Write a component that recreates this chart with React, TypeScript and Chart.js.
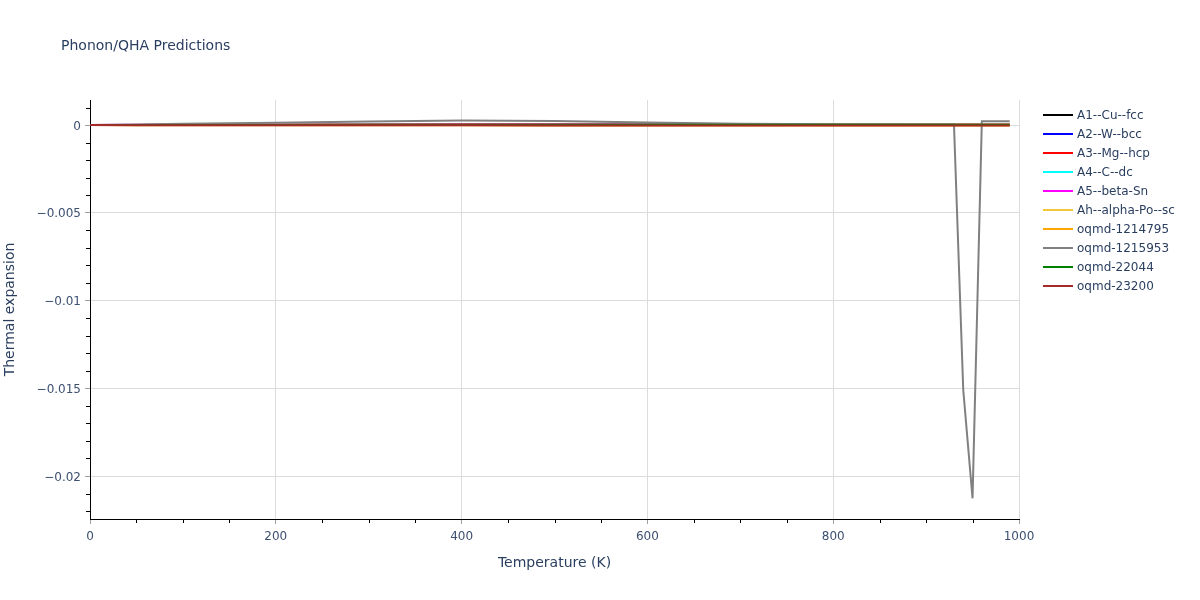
import React, { useEffect, useRef } from "react";
import { Chart, registerables } from "chart.js";

Chart.register(...registerables);

const TITLE = "Phonon/QHA Predictions";
const X_TITLE = "Temperature (K)";
const Y_TITLE = "Thermal expansion";

const seriesNames = [
  "A1--Cu--fcc",
  "A2--W--bcc",
  "A3--Mg--hcp",
  "A4--C--dc",
  "A5--beta-Sn",
  "Ah--alpha-Po--sc",
  "oqmd-1214795",
  "oqmd-1215953",
  "oqmd-22044",
  "oqmd-23200",
];
const seriesColors = [
  "#000000",
  "#0000ff",
  "#ff0000",
  "#00ffff",
  "#ff00ff",
  "#f2c83a",
  "#ffa500",
  "#808080",
  "#008000",
  "#a52a2a",
];

// temperatures for the smooth series
const tSmooth = [0, 50, 100, 200, 300, 400, 500, 600, 700, 800, 900, 990];
const cuVals = [0, 1e-5, 2e-5, 2.5e-5, 2.6e-5, 2.7e-5, 2.8e-5, 2.9e-5, 3e-5, 3.1e-5, 3.2e-5, 3.3e-5];
const wVals = [0, 0.5e-5, 1e-5, 1.2e-5, 1.3e-5, 1.4e-5, 1.5e-5, 1.6e-5, 1.7e-5, 1.8e-5, 1.9e-5, 2e-5];
const mgVals = [0, 1e-5, 2e-5, 2.4e-5, 2.6e-5, 2.8e-5, 3e-5, 3.2e-5, 3.4e-5, 3.6e-5, 3.8e-5, 4e-5];
const cVals = [0, 0, 0.2e-5, 0.6e-5, 0.9e-5, 1.1e-5, 1.2e-5, 1.3e-5, 1.4e-5, 1.5e-5, 1.55e-5, 1.6e-5];
const snVals = [0, 1.5e-5, 2.2e-5, 2.5e-5, 2.6e-5, 2.7e-5, 2.8e-5, 2.9e-5, 3e-5, 3.1e-5, 3.2e-5, 3.3e-5];
const poVals = [0, 1e-5, 1.8e-5, 2.1e-5, 2.2e-5, 2.3e-5, 2.4e-5, 2.5e-5, 2.6e-5, 2.7e-5, 2.8e-5, 2.9e-5];
const o1214795Vals = [0, -0.5e-5, -1e-5, -1.2e-5, -1.4e-5, -1.6e-5, -1.8e-5, -2e-5, -2.2e-5, -2.4e-5, -2.6e-5, -2.8e-5];
const o22044Vals = [0, 0.5e-5, 1e-5, 1.2e-5, 1.3e-5, 1.4e-5, 1.5e-5, 1.6e-5, 1.7e-5, 1.8e-5, 1.9e-5, 2e-5];
const o23200Vals = [0, -0.5e-5, -1e-5, -1.2e-5, -1.4e-5, -1.6e-5, -1.8e-5, -2e-5, -2.2e-5, -2.4e-5, -2.6e-5, -2.8e-5];

// oqmd-1215953 has its own temperature grid (with the dip near 950 K)
const tGray = [0, 50, 100, 200, 300, 400, 500, 600, 700, 800, 900, 920, 930, 940, 950, 960, 970, 980, 990];
const grayVals = [0, 4e-5, 8e-5, 1.4e-4, 2.0e-4, 2.6e-4, 2.4e-4, 1.5e-4, 7e-5, 5e-5, 4e-5, 4e-5, 3e-5, -0.0151, -0.02127, 0.00022, 0.00022, 0.00022, 0.00022];

const seriesTemps = [tSmooth, tSmooth, tSmooth, tSmooth, tSmooth, tSmooth, tSmooth, tGray, tSmooth, tSmooth];
const seriesValues = [cuVals, wVals, mgVals, cVals, snVals, poVals, o1214795Vals, grayVals, o22044Vals, o23200Vals];

const xTicks = [0, 200, 400, 600, 800, 1000];
const yTicks = [-0.02, -0.015, -0.01, -0.005, 0];
const xMinorTicks = [50, 100, 150, 250, 300, 350, 450, 500, 550, 650, 700, 750, 850, 900, 950];
const yMinorTicks = [0.001, -0.001, -0.002, -0.003, -0.004, -0.006, -0.007, -0.008, -0.009, -0.011, -0.012, -0.013, -0.014, -0.016, -0.017, -0.018, -0.019, -0.021, -0.022];

const FONT = "'DejaVu Sans', Verdana, sans-serif";
const TEXT = "#2a3f5f";
const TICK_TEXT = "#3d5070";

const minorTickPlugin = {
  id: "minorTicks",
  afterDraw(chart: any) {
    const ctx = chart.ctx;
    const xs = chart.scales.x;
    const ys = chart.scales.y;
    const area = chart.chartArea;
    ctx.save();
    ctx.strokeStyle = "#000";
    ctx.lineWidth = 1;
    ctx.beginPath();
    for (const v of xMinorTicks) {
      const px = Math.round(xs.getPixelForValue(v)) + 0.5;
      ctx.moveTo(px, area.bottom);
      ctx.lineTo(px, area.bottom + 4);
    }
    for (const v of yMinorTicks) {
      const py = Math.round(ys.getPixelForValue(v)) + 0.5;
      ctx.moveTo(area.left, py);
      ctx.lineTo(area.left - 4, py);
    }
    ctx.stroke();
    ctx.restore();
  },
};

function fmtY(v: number) {
  if (Math.abs(v) < 1e-12) return "0";
  const s = String(+v.toFixed(4));
  return s.replace("-", "\u2212");
}

export default function App() {
  const canvasRef = useRef<HTMLCanvasElement | null>(null);

  useEffect(() => {
    const n = seriesNames.length;
    const datasets = seriesNames.map((name, i) => ({
      label: name,
      data: seriesTemps[i].map((t, j) => ({ x: t, y: seriesValues[i][j] })),
      borderColor: seriesColors[i],
      backgroundColor: seriesColors[i],
      borderWidth: 2,
      pointRadius: 0,
      fill: false,
      tension: 0,
      order: n - i,
    }));
    const chart = new Chart(canvasRef.current as HTMLCanvasElement, {
      type: "line",
      data: { datasets },
      plugins: [minorTickPlugin],
      options: {
        animation: false,
        responsive: false,
        devicePixelRatio: 1,
        layout: { padding: { left: 0, right: 181, top: 100, bottom: 0 } },
        plugins: {
          legend: { display: false },
          title: { display: false },
          tooltip: { enabled: false },
        },
        scales: {
          x: {
            type: "linear",
            min: 0,
            max: 1000,
            afterFit: (s: any) => {
              s.height = 81;
            },
            afterBuildTicks: (s: any) => {
              s.ticks = xTicks.map((v) => ({ value: v }));
            },
            ticks: {
              color: TICK_TEXT,
              font: { family: FONT, size: 12 },
              padding: 6,
              maxRotation: 0,
              callback: (v: any) => String(v),
            },
            grid: {
              color: "#dcdcdc",
              tickColor: "#a0a0a0",
              tickLength: 5,
              drawTicks: true,
            },
            border: { color: "#000", width: 1 },
            title: {
              display: true,
              text: X_TITLE,
              color: TEXT,
              font: { family: FONT, size: 14 },
              padding: { top: 0, bottom: 28 },
            },
          },
          y: {
            type: "linear",
            min: -0.02245,
            max: 0.00143,
            afterFit: (s: any) => {
              s.width = 90;
            },
            afterBuildTicks: (s: any) => {
              s.ticks = yTicks.map((v) => ({ value: v }));
            },
            ticks: {
              color: TICK_TEXT,
              font: { family: FONT, size: 12 },
              padding: 4,
              labelOffset: 1.5,
              callback: (v: any) => fmtY(Number(v)),
            },
            grid: {
              color: "#dcdcdc",
              tickColor: "#a0a0a0",
              tickLength: 5,
              drawTicks: true,
            },
            border: { color: "#000", width: 1 },
            title: {
              display: true,
              text: Y_TITLE,
              color: TEXT,
              font: { family: FONT, size: 14 },
              padding: { top: 2, bottom: 0 },
            },
          },
        },
      },
    } as any);
    return () => chart.destroy();
  }, []);

  return (
    <div style={{ position: "absolute", left: 0, top: 0, width: 1200, height: 600, background: "#fff", fontFamily: FONT }}>
      <canvas ref={canvasRef} width={1200} height={600} style={{ position: "absolute", left: 0, top: 0, width: 1200, height: 600 }} />
      <div style={{ position: "absolute", left: 61, top: 35, fontSize: 14, color: TEXT, lineHeight: "20px", whiteSpace: "nowrap" }}>
        {TITLE}
      </div>
      <div style={{ position: "absolute", left: 1043, top: 105 }}>
        {seriesNames.map((name, i) => (
          <div key={name} style={{ height: 19, display: "flex", alignItems: "center", whiteSpace: "nowrap" }}>
            <div style={{ width: 30, height: 2, background: seriesColors[i], marginRight: 4 }} />
            <span style={{ fontSize: 12, color: TEXT }}>{name}</span>
          </div>
        ))}
      </div>
    </div>
  );
}
